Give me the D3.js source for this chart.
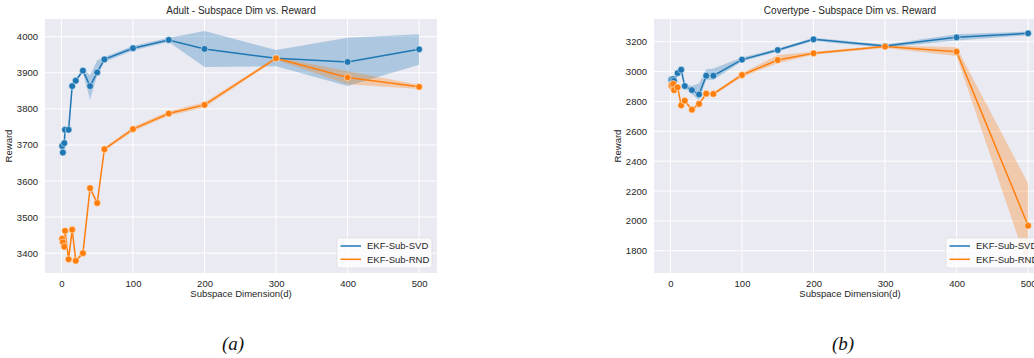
<!DOCTYPE html>
<html>
<head>
<meta charset="utf-8">
<script src="https://cdn.jsdelivr.net/npm/d3@7"></script>
<style>
	body { margin: 0; background: #fff; }
	svg { display: block; overflow: hidden; }
	text { font-family: 'Liberation Sans', Arial, sans-serif; }
</style>
</head>
<body>
<svg id="chart" width="1034" height="358"></svg>
<script>
// subspace dimensions (x)
const dims = [1, 2, 4, 5, 10, 15, 20, 30, 40, 50, 60, 100, 150, 200, 300, 400, 500];
const xTicks = [0, 100, 200, 300, 400, 500];

// Adult
const adultSvd = [3697, 3679, 3705, 3742, 3742, 3863, 3878, 3906, 3863, 3901, 3937, 3968, 3991, 3966, 3940, 3930, 3965];
const adultSvdLo = [3693, 3675, 3700, 3738, 3738, 3858, 3873, 3901, 3825, 3893, 3930, 3962, 3985, 3916, 3918, 3863, 3922];
const adultSvdHi = [3701, 3683, 3710, 3746, 3746, 3868, 3883, 3911, 3893, 3935, 3944, 3974, 3997, 4016, 3963, 3997, 4007];
const adultRnd = [3440, 3430, 3418, 3462, 3383, 3465, 3379, 3400, 3580, 3539, 3688, 3744, 3787, 3811, 3940, 3887, 3861];
const adultRndLo = [3435, 3425, 3413, 3457, 3378, 3460, 3374, 3395, 3575, 3534, 3683, 3738, 3781, 3804, 3936, 3868, 3855];
const adultRndHi = [3445, 3435, 3423, 3467, 3388, 3470, 3384, 3405, 3585, 3544, 3693, 3750, 3793, 3818, 3944, 3904, 3867];
const adultYTicks = [3400, 3500, 3600, 3700, 3800, 3900, 4000];

// Covertype
const coverSvd = [2945, 2948, 2950, 2938, 2990, 3012, 2903, 2876, 2847, 2972, 2972, 3080, 3144, 3216, 3171, 3229, 3256];
const coverSvdLo = [2935, 2936, 2938, 2925, 2978, 3000, 2893, 2848, 2810, 2945, 2945, 3068, 3134, 3205, 3160, 3208, 3243];
const coverSvdHi = [2955, 2960, 2962, 2950, 3002, 3024, 2913, 2905, 2920, 3015, 3020, 3094, 3155, 3227, 3182, 3250, 3268];
const coverRnd = [2905, 2912, 2917, 2876, 2894, 2774, 2805, 2745, 2783, 2852, 2850, 2977, 3077, 3122, 3167, 3133, 1968];
const coverRndLo = [2890, 2900, 2905, 2866, 2884, 2764, 2795, 2735, 2773, 2842, 2840, 2964, 3055, 3112, 3158, 3104, 1690];
const coverRndHi = [2920, 2925, 2929, 2886, 2904, 2784, 2815, 2755, 2793, 2862, 2860, 2990, 3111, 3132, 3176, 3162, 2250];
const coverYTicks = [1800, 2000, 2200, 2400, 2600, 2800, 3000, 3200];

const seriesNames = ['EKF-Sub-SVD', 'EKF-Sub-RND'];
const colours = ['#1f77b4', '#ff7f0e'];

const panels = [
	{
		id: 'a', title: 'Adult - Subspace Dim vs. Reward', left: 45, yDomain: [3345, 4049], yTicks: adultYTicks,
		series: [[adultSvd, adultSvdLo, adultSvdHi], [adultRnd, adultRndLo, adultRndHi]], caption: '(a)', captionX: 233,
	},
	{
		id: 'b', title: 'Covertype - Subspace Dim vs. Reward', left: 654, yDomain: [1651, 3352], yTicks: coverYTicks,
		series: [[coverSvd, coverSvdLo, coverSvdHi], [coverRnd, coverRndLo, coverRndHi]], caption: '(b)', captionX: 843,
	},
];

const plotW = 392;
const plotTop = 19;
const plotH = 254;
const svg = d3.select('#chart');

function drawPanel(p) {
	const xScale = d3.scaleLinear().domain([-23, 525]).range([p.left, p.left + plotW]);
	const yScale = d3.scaleLinear().domain(p.yDomain).range([plotTop + plotH, plotTop]);
	const g = svg.append('g');

	g.append('rect')
		.attr('x', p.left)
		.attr('y', plotTop)
		.attr('width', plotW)
		.attr('height', plotH)
		.attr('fill', '#eaeaf2');

	g.append('clipPath')
		.attr('id', 'clip-' + p.id)
		.append('rect')
		.attr('x', p.left)
		.attr('y', plotTop)
		.attr('width', plotW)
		.attr('height', plotH);

	// grid
	g.selectAll('.vgrid')
		.data(xTicks)
		.enter()
		.append('line')
		.attr('x1', d => xScale(d))
		.attr('x2', d => xScale(d))
		.attr('y1', plotTop)
		.attr('y2', plotTop + plotH)
		.attr('stroke', '#fff')
		.attr('stroke-width', 1);
	g.selectAll('.hgrid')
		.data(p.yTicks)
		.enter()
		.append('line')
		.attr('x1', p.left)
		.attr('x2', p.left + plotW)
		.attr('y1', d => yScale(d))
		.attr('y2', d => yScale(d))
		.attr('stroke', '#fff')
		.attr('stroke-width', 1);

	// axes without tick marks
	const xAxis = d3.axisBottom(xScale).tickValues(xTicks).tickFormat(d3.format('d')).tickSize(0).tickPadding(7);
	g.append('g')
		.attr('transform', `translate(0,${plotTop + plotH})`)
		.call(xAxis)
		.call(a => a.select('.domain').remove())
		.selectAll('text')
		.attr('font-size', 9.5)
		.attr('fill', '#262626');
	const yAxis = d3.axisLeft(yScale).tickValues(p.yTicks).tickFormat(d3.format('d')).tickSize(0).tickPadding(7);
	g.append('g')
		.attr('transform', `translate(${p.left},0)`)
		.call(yAxis)
		.call(a => a.select('.domain').remove())
		.selectAll('text')
		.attr('font-size', 9.5)
		.attr('fill', '#262626');

	const plot = g.append('g').attr('clip-path', `url(#clip-${p.id})`);
	const area = d3
		.area()
		.x((d, i) => xScale(dims[i]))
		.y0(d => yScale(d[0]))
		.y1(d => yScale(d[1]));
	const line = d3
		.line()
		.x((d, i) => xScale(dims[i]))
		.y(d => yScale(d));

	p.series.forEach((s, k) => {
		const band = s[1].map((lo, i) => [lo, s[2][i]]);
		plot.append('path')
			.attr('d', area(band))
			.attr('fill', colours[k])
			.attr('fill-opacity', 0.3);
	});
	p.series.forEach((s, k) => {
		plot.append('path')
			.attr('d', line(s[0]))
			.attr('fill', 'none')
			.attr('stroke', colours[k])
			.attr('stroke-width', 1.5);
		plot.selectAll('.pt' + k)
			.data(s[0])
			.enter()
			.append('circle')
			.attr('cx', (d, i) => xScale(dims[i]))
			.attr('cy', d => yScale(d))
			.attr('r', 3.4)
			.attr('fill', colours[k])
			.attr('stroke', '#fff')
			.attr('stroke-width', 0.5);
	});

	// titles
	g.append('text')
		.attr('x', p.left + plotW / 2)
		.attr('y', 14)
		.attr('text-anchor', 'middle')
		.attr('font-size', 10)
		.attr('fill', '#262626')
		.text(p.title);
	g.append('text')
		.attr('x', p.left + plotW / 2)
		.attr('y', 297)
		.attr('text-anchor', 'middle')
		.attr('font-size', 9.5)
		.attr('fill', '#262626')
		.text('Subspace Dimension(d)');
	g.append('text')
		.attr('transform', `translate(${p.left - 33},${plotTop + plotH / 2}) rotate(-90)`)
		.attr('text-anchor', 'middle')
		.attr('font-size', 9.5)
		.attr('fill', '#262626')
		.text('Reward');

	// legend
	const lx = p.left + plotW - 100;
	const ly = 238;
	const legend = g.append('g');
	legend.append('rect')
		.attr('x', lx)
		.attr('y', ly)
		.attr('width', 95)
		.attr('height', 30)
		.attr('rx', 2.5)
		.attr('fill', '#fff')
		.attr('fill-opacity', 0.8)
		.attr('stroke', '#d8d8d8')
		.attr('stroke-width', 0.6);
	seriesNames.forEach((name, k) => {
		const yy = ly + 8 + k * 13.3;
		legend.append('line')
			.attr('x1', lx + 3.5)
			.attr('x2', lx + 24)
			.attr('y1', yy)
			.attr('y2', yy)
			.attr('stroke', colours[k])
			.attr('stroke-width', 1.5);
		legend.append('text')
			.attr('x', lx + 30)
			.attr('y', yy + 3.3)
			.attr('font-size', 9.5)
			.attr('fill', '#262626')
			.text(name);
	});

	// subfigure caption
	svg.append('text')
		.attr('x', p.captionX)
		.attr('y', 350)
		.attr('text-anchor', 'middle')
		.attr('font-size', 19)
		.attr('font-style', 'italic')
		.style('font-family', "'Liberation Serif', 'DejaVu Serif', serif")
		.attr('fill', '#111')
		.text(p.caption);
}

panels.forEach(drawPanel);
</script>
</body>
</html>
